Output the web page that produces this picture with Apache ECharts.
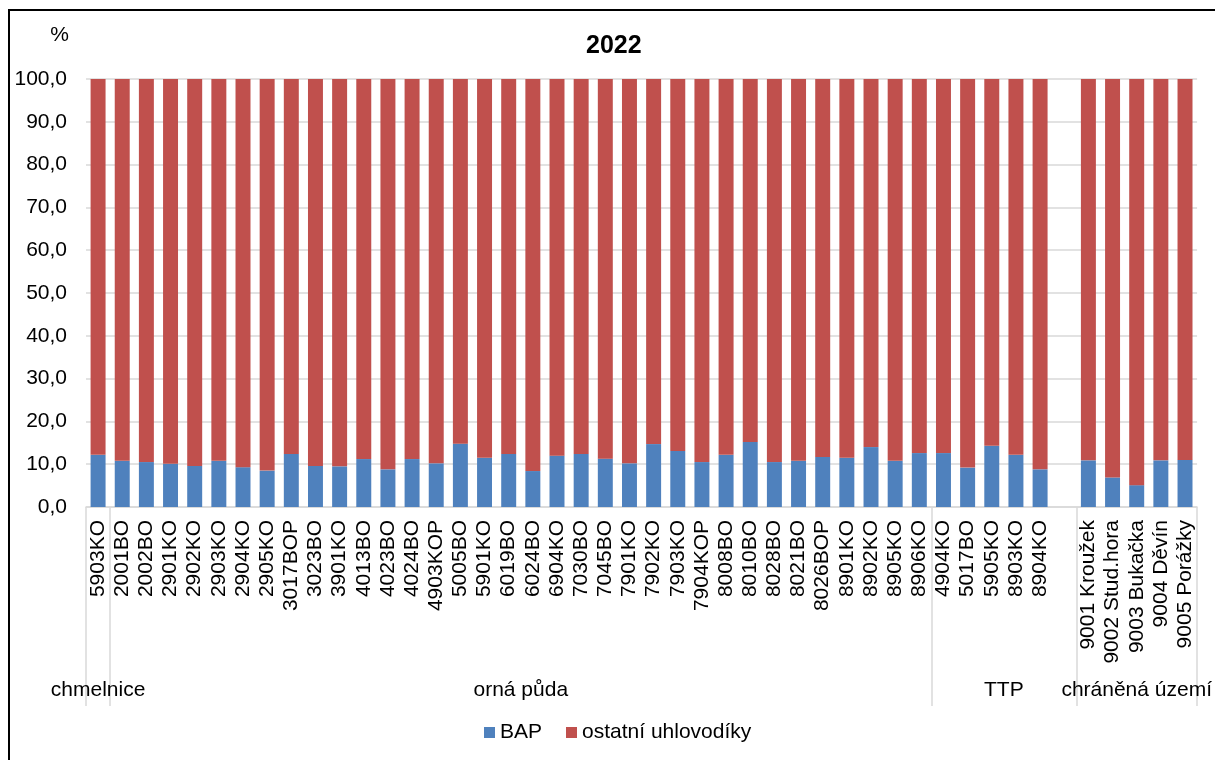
<!DOCTYPE html>
<html>
<head>
<meta charset="utf-8">
<script src="https://cdn.jsdelivr.net/npm/echarts@6/dist/echarts.min.js"></script>
<style>
  html, body { margin: 0; padding: 0; width: 1215px; height: 760px; overflow: hidden; background: #fff; }
  #frame { position: absolute; left: 8px; top: 9px; width: 1400px; height: 1000px; border-left: 2px solid #000; border-top: 2px solid #000; }
  #chart { position: absolute; left: 0; top: 0; width: 1215px; height: 760px; }
</style>
</head>
<body>
<div id="frame"></div>
<div id="chart"></div>
<script>
// Stations (category axis); '' is the empty slot inside the TTP group
const categories = [
  '5903KO',
  '2001BO','2002BO','2901KO','2902KO','2903KO','2904KO','2905KO','3017BOP','3023BO','3901KO',
  '4013BO','4023BO','4024BO','4903KOP','5005BO','5901KO','6019BO','6024BO','6904KO','7030BO',
  '7045BO','7901KO','7902KO','7903KO','7904KOP','8008BO','8010BO','8028BO','8021BO','8026BOP',
  '8901KO','8902KO','8905KO','8906KO',
  '4904KO','5017BO','5905KO','8903KO','8904KO','',
  '9001 Kroužek','9002 Stud.hora','9003 Bukačka','9004 Děvín','9005 Porážky'
];
// BAP share (%)
const bap = [
  12.2,
  10.8,10.5,10.1,9.6,10.8,9.3,8.5,12.4,9.6,9.5,
  11.2,8.8,11.2,10.2,14.8,11.5,12.4,8.4,12.0,12.4,
  11.3,10.2,14.7,13.1,10.5,12.2,15.2,10.5,10.8,11.7,
  11.5,14.0,10.8,12.6,
  12.6,9.2,14.3,12.2,8.8,null,
  10.9,6.9,5.1,10.9,11.0
];
// other hydrocarbons share (%)
const ostatni = [
  87.8,
  89.2,89.5,89.9,90.4,89.2,90.7,91.5,87.6,90.4,90.5,
  88.8,91.2,88.8,89.8,85.2,88.5,87.6,91.6,88.0,87.6,
  88.7,89.8,85.3,86.9,89.5,87.8,84.8,89.5,89.2,88.3,
  88.5,86.0,89.2,87.4,
  87.4,90.8,85.7,87.8,91.2,null,
  89.1,93.1,94.9,89.1,89.0
];
// Groups: names, boundaries (category index) and label centres
const groupNames = ['chmelnice','orná půda','TTP','chráněná území'];
const groupBounds = [0, 1, 35, 41, 46];
const groupCenters = [0.5, 18, 38, 43.5];

const FONT = 'Liberation Sans, Arial, sans-serif';
const GRID = '#d9d9d9';
const chart = echarts.init(document.getElementById('chart'), null, {renderer: 'canvas'});
chart.setOption({
  animation: false,
  backgroundColor: 'transparent',
  textStyle: { fontFamily: FONT, color: '#000' },
  title: {
    text: '2022', left: 586, top: 34, padding: 0,
    textStyle: { fontFamily: FONT, fontSize: 25, fontWeight: 'bold', color: '#000' }
  },
  legend: {
    data: ['BAP', 'ostatní uhlovodíky'],
    left: 484, top: 722, padding: 0,
    itemWidth: 11, itemHeight: 11, itemGap: 24,
    icon: 'rect',
    textStyle: { fontFamily: FONT, fontSize: 21, color: '#000' }
  },
  grid: { left: 86, right: 17, top: 79, bottom: 253, containLabel: false },
  xAxis: [
    {
      type: 'category', data: categories, position: 'bottom',
      axisLine: { show: true, lineStyle: { color: GRID, width: 1.5 } },
      axisTick: { show: false },
      axisLabel: { rotate: 90, margin: 13, fontFamily: FONT, fontSize: 21, color: '#000', interval: 0 },
      splitLine: { show: false }
    },
    {
      type: 'value', min: 0, max: 46, position: 'bottom', offset: 0,
      axisLine: { show: false },
      axisTick: { show: true, customValues: groupBounds, length: 199, lineStyle: { color: GRID, width: 1.5 } },
      axisLabel: {
        show: true, customValues: groupCenters, margin: 173,
        fontFamily: FONT, fontSize: 21, color: '#000',
        formatter: function (v) { const i = groupCenters.indexOf(v); return i >= 0 ? groupNames[i] : ''; }
      },
      splitLine: { show: false }
    }
  ],
  yAxis: {
    type: 'value', min: 0, max: 100, interval: 10,
    name: '%', nameLocation: 'end', nameGap: 33,
    nameTextStyle: { fontFamily: FONT, fontSize: 21, color: '#000', align: 'right', padding: [0, 17, 0, 0] },
    axisLine: { show: false }, axisTick: { show: false },
    axisLabel: {
      margin: 19, fontFamily: FONT, fontSize: 21, color: '#000',
      formatter: function (v) { return v.toFixed(1).replace('.', ','); }
    },
    splitLine: { show: true, lineStyle: { color: GRID, width: 1.5 } }
  },
  series: [
    {
      name: 'BAP', type: 'bar', stack: 'a', xAxisIndex: 0, data: bap,
      barCategoryGap: '38%', itemStyle: { color: '#4f81bd' }
    },
    {
      name: 'ostatní uhlovodíky', type: 'bar', stack: 'a', xAxisIndex: 0, data: ostatni,
      barCategoryGap: '38%', itemStyle: { color: '#c0504d' }
    }
  ]
});
</script>
</body>
</html>
